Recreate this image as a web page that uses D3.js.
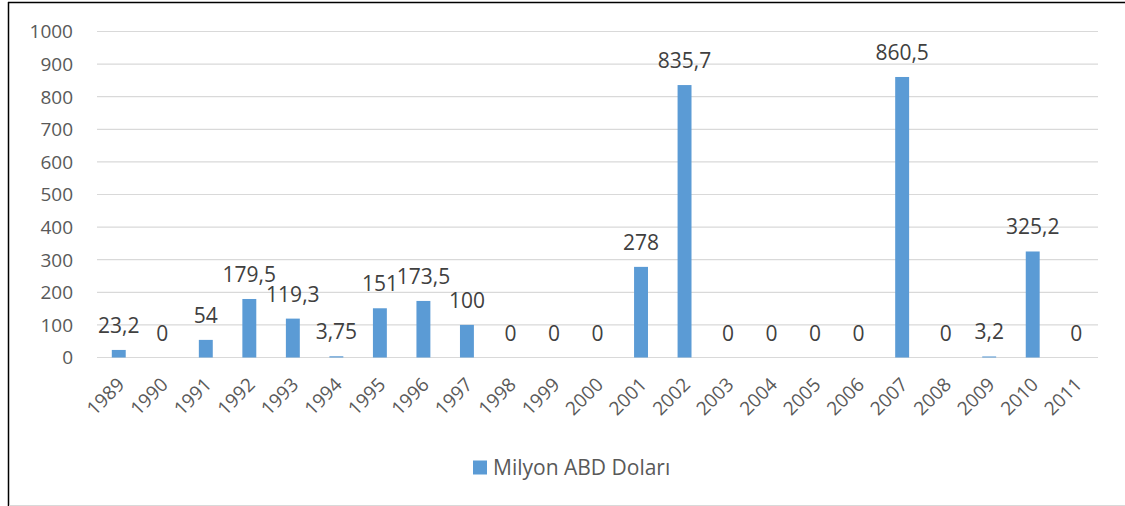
<!DOCTYPE html>
<html>
<head>
<meta charset="utf-8">
<script src="https://cdn.jsdelivr.net/npm/d3@7"></script>
<style>
  body { margin: 0; background: #fff; }
  svg { font-family: "Open Sans", "Liberation Sans", sans-serif; }
</style>
</head>
<body>
<svg id="chart" width="1125" height="506"></svg>
<script>
const years = ["1989","1990","1991","1992","1993","1994","1995","1996","1997","1998","1999","2000",
  "2001","2002","2003","2004","2005","2006","2007","2008","2009","2010","2011"];
const values = [23.2, 0, 54, 179.5, 119.3, 3.75, 151, 173.5, 100, 0, 0, 0,
  278, 835.7, 0, 0, 0, 0, 860.5, 0, 3.2, 325.2, 0];
const labels = ["23,2","0","54","179,5","119,3","3,75","151","173,5","100","0","0","0",
  "278","835,7","0","0","0","0","860,5","0","3,2","325,2","0"];
const yTicks = [0, 100, 200, 300, 400, 500, 600, 700, 800, 900, 1000];
const seriesName = "Milyon ABD Doları";

const svg = d3.select("#chart");

// frame: black top + left, light bottom edge
svg.append("line")
  .attr("x1", 8).attr("x2", 1125).attr("y1", 2.5).attr("y2", 2.5)
  .attr("stroke", "#000").attr("stroke-width", 1.5);
svg.append("line")
  .attr("x1", 8.5).attr("x2", 8.5).attr("y1", 2).attr("y2", 506)
  .attr("stroke", "#000").attr("stroke-width", 1.5);
svg.append("line")
  .attr("x1", 9).attr("x2", 1125).attr("y1", 505.5).attr("y2", 505.5)
  .attr("stroke", "#d9d9d9");

const x = d3.scaleBand().domain(years).range([97, 1098]).paddingInner(0.68).paddingOuter(0.34);
const y = d3.scaleLinear().domain([0, 1000]).range([357.5, 31.5]);

// gridlines
svg.append("g")
  .selectAll("line")
  .data(yTicks)
  .join("line")
  .attr("x1", 97).attr("x2", 1098)
  .attr("y1", d => y(d)).attr("y2", d => y(d))
  .attr("stroke", "#d9d9d9").attr("stroke-width", 1.2);

// y axis labels
svg.append("g")
  .selectAll("text")
  .data(yTicks)
  .join("text")
  .attr("x", 73)
  .attr("y", d => y(d))
  .attr("dy", "0.36em")
  .attr("text-anchor", "end")
  .attr("fill", "#595959")
  .attr("font-size", 19)
  .text(d => d);

// bars
svg.append("g")
  .selectAll("rect")
  .data(values)
  .join("rect")
  .attr("x", (d, i) => x(years[i]))
  .attr("width", x.bandwidth())
  .attr("y", d => y(d))
  .attr("height", d => y(0) - y(d))
  .attr("fill", "#5b9bd5");

// value labels
svg.append("g")
  .selectAll("text")
  .data(values)
  .join("text")
  .attr("x", (d, i) => x(years[i]) + x.bandwidth() / 2)
  .attr("y", d => y(d) - 17)
  .attr("text-anchor", "middle")
  .attr("fill", "#404040")
  .attr("font-size", 21)
  .text((d, i) => labels[i]);

// x labels rotated
svg.append("g")
  .selectAll("text")
  .data(years)
  .join("text")
  .attr("transform", d => `translate(${x(d) + x.bandwidth() / 2 + 2},${381}) rotate(-45)`)
  .attr("text-anchor", "end")
  .attr("dy", "0.36em")
  .attr("fill", "#595959")
  .attr("font-size", 19)
  .text(d => d);

// legend
const legend = svg.append("g");
legend.append("rect")
  .attr("x", 473).attr("y", 460.5)
  .attr("width", 14).attr("height", 14)
  .attr("fill", "#5b9bd5");
legend.append("text")
  .attr("x", 493).attr("y", 467.5)
  .attr("dy", "0.36em")
  .attr("fill", "#595959")
  .attr("font-size", 21)
  .text(seriesName);
</script>
</body>
</html>
